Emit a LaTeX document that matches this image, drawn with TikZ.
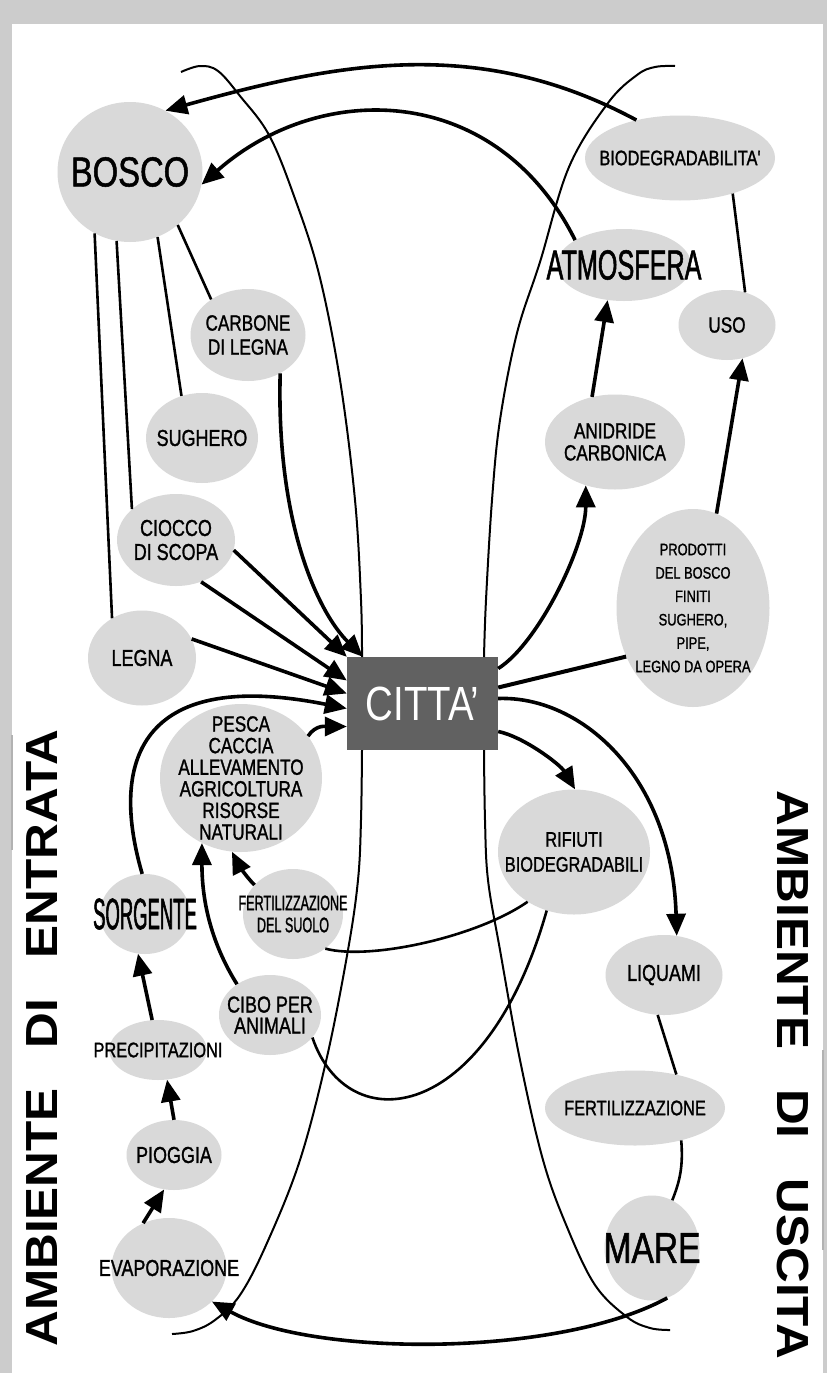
\documentclass[tikz,border=0pt]{standalone}
\usepackage{fontspec}
\setmainfont{Liberation Sans}
\newfontfamily\narrowfont[FakeStretch=0.78, FakeBold=1.2]{Liberation Sans}
\newfontfamily\slimfont[FakeStretch=0.6, FakeBold=1.2]{Liberation Sans}
\newfontfamily\thinfont[FakeStretch=0.42, FakeBold=1.2]{Liberation Sans}
\newfontfamily\cityfont[FakeStretch=0.8]{Liberation Sans}
\newfontfamily\titlefont[FakeStretch=1.1]{Liberation Sans Bold}
\usetikzlibrary{arrows.meta, shapes.geometric}
\definecolor{blobgray}{gray}{0.85}
\definecolor{margingray}{gray}{0.80}
\definecolor{cittagray}{gray}{0.38}

\begin{document}
\begin{tikzpicture}[x=1pt, y=-1pt,
  blob/.style={ellipse, fill=blobgray, inner sep=-30pt, align=center,
    font=\narrowfont\fontsize{22}{24}\selectfont},
  flow/.style={line width=3.6pt, -{Triangle[length=22pt,width=19pt]}},
  link/.style={line width=2.6pt},
  rim/.style={line width=2pt},
  title/.style={font=\titlefont\fontsize{45}{45}\selectfont, inner sep=0pt}]

          % --- Page: grey margin, white sheet ---
          \useasboundingbox (0,0) rectangle (827,1373);
          \fill[margingray] (0,0) rectangle (827,1373);
          \fill[white] (12,24) rectangle (823,1373);
          \draw[gray!60, line width=1.2pt] (12,735) -- (12,850);
          \draw[gray!60, line width=1.2pt] (823,1050) -- (823,1250);

          % --- Side titles ---
          \node[title, rotate=90] (entrata) at (42,1038) {AMBIENTE\hspace{40pt}DI\hspace{40pt}ENTRATA};
          \node[title, rotate=-90] (uscita) at (793,1075) {AMBIENTE\hspace{40pt}DI\hspace{40pt}USCITA};

          % --- Input side (left) ---
          \node[blob, minimum width=145pt, minimum height=140pt, font=\narrowfont\fontsize{42}{42}\selectfont] (bosco) at (130,172) {BOSCO};
          \node[blob, minimum width=115pt, minimum height=92pt] (carbone) at (248,335) {CARBONE\\DI LEGNA};
          \node[blob, minimum width=112pt, minimum height=90pt, font=\narrowfont\fontsize{23}{24}\selectfont] (sughero) at (202,438) {SUGHERO};
          \node[blob, minimum width=118pt, minimum height=92pt, font=\narrowfont\fontsize{23}{24}\selectfont] (ciocco) at (176,540) {CIOCCO\\DI SCOPA};
          \node[blob, minimum width=108pt, minimum height=95pt, font=\narrowfont\fontsize{23}{24}\selectfont] (legna) at (142,658) {LEGNA};
          \node[blob, minimum width=162pt, minimum height=148pt, font=\narrowfont\fontsize{22}{21.6}\selectfont] (pesca) at (241,778)
            {PESCA\\CACCIA\\ALLEVAMENTO\\AGRICOLTURA\\RISORSE\\NATURALI};
          \node[blob, minimum width=90pt, minimum height=80pt, font=\thinfont\fontsize{44}{44}\selectfont] (sorgente) at (145,914) {SORGENTE};
          \node[blob, minimum width=100pt, minimum height=90pt, font=\slimfont\fontsize{21}{22}\selectfont] (suolo) at (293,914) {FERTILIZZAZIONE\\DEL SUOLO};
          \node[blob, minimum width=102pt, minimum height=80pt, font=\narrowfont\fontsize{23}{21}\selectfont] (cibo) at (270,1015) {CIBO PER\\ANIMALI};
          \node[blob, minimum width=92pt, minimum height=60pt, font=\narrowfont\fontsize{21}{22}\selectfont] (precip) at (158,1050) {PRECIPITAZIONI};
          \node[blob, minimum width=95pt, minimum height=70pt, font=\narrowfont\fontsize{23}{24}\selectfont] (pioggia) at (174,1155) {PIOGGIA};
          \node[blob, minimum width=115pt, minimum height=100pt, font=\narrowfont\fontsize{23}{24}\selectfont] (evap) at (169,1268) {EVAPORAZIONE};

          % --- Output side (right) ---
          \node[blob, minimum width=190pt, minimum height=85pt, font=\narrowfont\fontsize{21}{22}\selectfont] (biodeg) at (680,158) {BIODEGRADABILITA'};
          \node[blob, minimum width=124pt, minimum height=72pt, font=\slimfont\fontsize{42}{42}\selectfont] (atmosfera) at (624,265) {ATMOSFERA};
          \node[blob, minimum width=97pt, minimum height=70pt] (uso) at (727,325) {USO};
          \node[blob, minimum width=140pt, minimum height=95pt, font=\narrowfont\fontsize{22}{22}\selectfont] (anidride) at (615,442) {ANIDRIDE\\CARBONICA};
          \node[blob, minimum width=153pt, minimum height=198pt, font=\narrowfont\fontsize{16.5}{23.4}\selectfont] (prodotti) at (693,608)
            {PRODOTTI\\DEL BOSCO\\FINITI\\SUGHERO,\\PIPE,\\LEGNO DA OPERA};
          \node[blob, minimum width=152pt, minimum height=125pt, font=\narrowfont\fontsize{21}{25}\selectfont] (rifiuti) at (574,852) {RIFIUTI\\BIODEGRADABILI};
          \node[blob, minimum width=117pt, minimum height=80pt, font=\narrowfont\fontsize{23}{24}\selectfont] (liquami) at (664,975) {LIQUAMI};
          \node[blob, minimum width=180pt, minimum height=75pt, font=\narrowfont\fontsize{21}{22}\selectfont] (fertil) at (635,1108) {FERTILIZZAZIONE};
          \node[blob, minimum width=95pt, minimum height=105pt, font=\narrowfont\fontsize{43}{43}\selectfont] (mare) at (652,1248) {MARE};

          % --- City ---
          \node[fill=cittagray, minimum width=151pt, minimum height=93pt, inner sep=0pt, text=white,
            font=\cityfont\fontsize{48}{48}\selectfont] (citta) at (422.5,703.5) {CITTA’};

          % --- Boundary curves (hidden behind the city box) ---
          \draw[rim] plot[smooth, tension=0.6] coordinates {(181,72) (200,66) (218,71) (240,96) (269,135) (294,196)
            (319,274) (340,380) (355,500) (361,600) (362,657)};
          \draw[rim] plot[smooth, tension=0.6] coordinates {(362,750) (361,820) (358,880) (348,950) (327,1057) (300,1160)
            (267,1243) (240,1295) (215,1320) (193,1331) (172,1334)};
          \draw[rim] plot[smooth, tension=0.6] coordinates {(675,66) (655,67) (637,75) (608,103) (569,167) (540,262)
            (517,333) (500,420) (492,500) (486,600) (484,657)};
          \draw[rim] plot[smooth, tension=0.6] coordinates {(484,750) (485,820) (488,880) (500,950) (520,1060) (543,1160)
            (567,1227) (595,1285) (627,1317) (650,1328) (670,1330)};

          % --- Wood products branch off the forest ---
          \draw[link] (bosco.240) -- (legna.127);
          \draw[link] (bosco.-101) -- (ciocco.145);
          \draw[link] (bosco.-67) -- (sughero.116);
          \draw[link] (bosco.-48) -- (carbone.136);

          % --- Everything flowing into the city ---
          \draw[flow] (carbone.-50) .. controls +(-4,150) and +(-45,-45) .. ([xshift=16pt]citta.north west);
          \draw[flow] (ciocco.-10) -- (citta.north west);
          \draw[flow] (ciocco.-59) -- ([yshift=23pt]citta.west);
          \draw[flow] (legna.21) -- ([yshift=10pt]citta.west);
          \draw[flow] (sorgente.94) .. controls +(-35,-120) and +(-200,-40) .. ([yshift=-5pt]citta.west);
          \draw[flow] (pesca.32) .. controls +(8,-12) and +(-20,0) .. ([yshift=-23pt]citta.west);

          % --- Water cycle ---
          \draw[flow] (precip.101) -- (sorgente.-100);
          \draw[flow] (pioggia.90) -- (precip.-73);
          \draw[flow] (evap.120) -- (pioggia.-106);
          \draw[flow] (mare.-73) .. controls +(-110,60) and +(100,55) .. (evap.-38);

          % --- Food and soil ---
          \draw[flow] (cibo.137) .. controls +(-25,-40) and +(0,60) .. (pesca.-121);
          \draw[flow] (suolo.143) .. controls +(-10,-10) and +(5,10) .. (pesca.-97);
          \draw[link] (suolo.-47) .. controls +(45,12) and +(-50,35) .. (rifiuti.-133);
          \draw[link] (cibo.-28) .. controls +(35,103) and +(-61,215) .. (rifiuti.-115);

          % --- Everything flowing out of the city ---
          \draw[flow] ([yshift=35pt]citta.east) .. controls +(40,-25) and +(0,60) .. (anidride.-124);
          \draw[flow] (anidride.117) -- (atmosfera.-115);
          \draw[flow] (atmosfera.153) .. controls +(-79,-158) and +(119,-105) .. (bosco.-10);
          \draw[flow] (biodeg.139) .. controls +(-158,-85) and +(172,-48) .. (bosco.60);
          \draw[flow] (prodotti.76) -- (uso.-65);
          \draw[link] (uso.61) -- (biodeg.-34);
          \draw[line width=4pt] (prodotti.-144) -- ([yshift=16pt]citta.east);
          \draw[flow] ([yshift=5pt]citta.east) .. controls +(82,-3) and +(-5,-161) .. (liquami.72);
          \draw[flow] ([yshift=-28pt]citta.east) .. controls +(25,5) and +(-15,-25) .. (rifiuti.89);
          \draw[link] (liquami.-99) -- (fertil.39);
          \draw[link] (fertil.-35) .. controls +(2,25) and +(8,-20) .. (mare.67);

        \end{tikzpicture}
\end{document}
